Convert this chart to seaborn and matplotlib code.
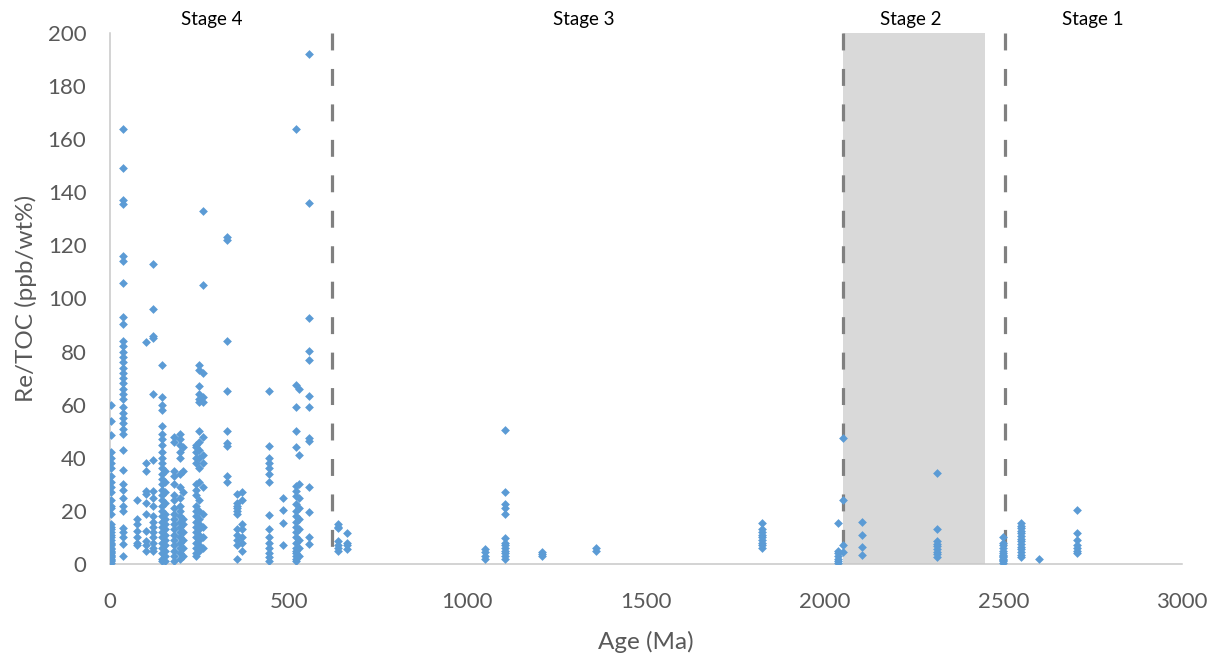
import matplotlib
matplotlib.use("Agg")
import matplotlib.pyplot as plt
import numpy as np
import pandas as pd
import seaborn as sns
from matplotlib.ticker import MultipleLocator
import matplotlib.transforms as mtransforms

# ---- data: ages (Ma) of sample groups and their Re/TOC values ----
group_ages = [2, 37, 75, 100, 120, 145, 155, 180, 195, 205, 240, 250, 260, 327,
              355, 370, 445, 484, 520, 530, 558, 638, 663,
              1050, 1105, 1210, 1360, 1825, 2037, 2050, 2105, 2315,
              2500, 2550, 2600, 2705]
group_values = [
    [60, 54, 48.5, 42, 40, 38, 36, 33, 31, 29, 27, 24, 22, 21, 19, 15, 14, 13, 12, 11,
     10, 9, 8, 7.5, 7, 6, 5.5, 5, 4.5, 4, 3.5, 3, 2.5, 2, 1.5, 1, 0.5],
    [164, 149, 137, 135.5, 116, 114, 106, 93, 90.5, 84, 82, 80, 78, 76, 74, 72, 70, 68,
     66, 64, 62, 59, 57, 55, 53, 51, 49, 43, 35.5, 30, 28, 25, 22, 20, 13.5, 12, 10, 7.5, 3],
    [24, 17, 15, 12.5, 10, 8, 7],
    [83.5, 38, 35, 27.5, 26.5, 23, 19, 12.5, 8.5, 7, 5],
    [113, 96, 86, 85, 64, 39, 27.5, 25, 22, 18, 16, 14, 12, 10, 8, 6, 5],
    [75, 63, 60, 58, 52, 49, 47, 45, 42, 40, 38, 36, 34, 32, 30, 28, 26, 24, 22, 20,
     18, 16, 14, 12, 10, 8, 6, 4, 2, 1],
    [35, 31, 27, 23, 19, 17, 15, 13, 11, 9, 7, 5, 3, 1],
    [48, 46, 35, 33, 30, 26, 24, 21, 19, 17, 15, 13, 11, 9, 7, 5, 3, 1],
    [49, 47, 45, 42, 40, 34, 29, 25, 22, 20, 18, 16, 14, 12, 10, 8, 6, 4, 2],
    [44, 35, 27, 17, 15, 12, 9, 6, 3],
    [45, 44, 42, 40, 38, 30, 28, 26, 22, 20, 18, 16, 14, 12, 10, 8, 6, 4, 3],
    [75, 73, 67, 64, 62, 61, 50, 46, 43, 40, 36, 31, 24, 20, 17, 15, 13, 11, 9, 7, 5],
    [133, 105, 72, 63, 61, 48, 41, 38, 29, 19, 14, 10, 6],
    [123, 122, 84, 65, 50, 45.5, 44.5, 33, 31],
    [26.5, 23, 22, 21, 20, 19, 13, 11, 9, 7, 2],
    [27, 24, 15, 13, 10, 8, 5],
    [65, 44.5, 40, 38, 36, 34, 31, 18.5, 13, 10, 8, 6, 4, 2.5, 1],
    [25, 20.5, 15.5, 7],
    [164, 67.5, 59, 50, 44, 29.5, 27.5, 25.7, 22.5, 20, 18, 16, 14, 12, 10, 8, 6, 5, 4, 3, 2, 1],
    [66, 41, 30, 25, 21, 17, 13, 9, 6, 3],
    [192, 136, 92.5, 80.4, 77, 63.4, 59, 47.5, 46.5, 29, 19.6, 10, 7.5],
    [15, 14, 13.6, 8.7, 7, 6, 5],
    [11.7, 8, 7, 5.6],
    [5.5, 4.5, 3, 2],
    [50.6, 27, 22.6, 21, 19, 9.8, 8, 7, 6, 5, 4, 3, 2],
    [4.5, 3.8, 3],
    [6, 5],
    [15.5, 13, 12, 11, 10, 9, 8, 7, 6],
    [15.5, 5, 4, 3, 2, 1, 0.5],
    [47.3, 24, 7.2, 4.5],
    [15.8, 11, 6.4, 3.3],
    [34.3, 13.3, 8.7, 7.7, 6.7, 5.7, 4.7, 3.7, 2.6],
    [10, 8, 7, 6, 5, 4, 3.5, 3, 2.5, 2, 1.5, 1, 0.5],
    [15.5, 14.5, 13.5, 12.5, 11.5, 10.5, 9.5, 8.5, 7.5, 6.5, 5.5, 4.5, 3.5, 2.5],
    [2],
    [20.4, 11.5, 9, 7, 6, 5, 4],
]

stage_boundaries = [620, 2050, 2505]
stage2_band = [2050, 2450]
stage_names = ["Stage 4", "Stage 3", "Stage 2", "Stage 1"]
stage_label_x = [285, 1327, 2242, 2751]
x_ticks = [0, 500, 1000, 1500, 2000, 2500, 3000]
y_ticks = [0, 20, 40, 60, 80, 100, 120, 140, 160, 180, 200]

ages = []
vals = []
for a, vs in zip(group_ages, group_values):
    ages += [a] * len(vs)
    vals += vs
df = pd.DataFrame({"Age (Ma)": ages, "Re/TOC (ppb/wt%)": vals})

sns.set_style("white")
plt.rcParams["font.family"] = ["Lato", "DejaVu Sans"]

W, H = 1213, 655
fig = plt.figure(figsize=(W / 100, H / 100), dpi=100)
ax = fig.add_axes([110 / W, (H - 564) / H, 1072 / W, 531 / H])

ax.axvspan(stage2_band[0], stage2_band[1], color="#d9d9d9", lw=0, zorder=0)
for xb in stage_boundaries:
    ax.plot([xb, xb], [200, 0], color="#808080", lw=2.3,
            linestyle=(0, (5.3, 5.8)), zorder=1, solid_capstyle="butt",
            dash_capstyle="butt")

sns.scatterplot(data=df, x="Age (Ma)", y="Re/TOC (ppb/wt%)", ax=ax, marker="D",
                s=20, color="#5b9bd5", linewidth=0, zorder=3)

ax.set_xlim(0, 3000)
ax.set_ylim(0, 200)
ax.set_xticks(x_ticks)
ax.set_yticks(y_ticks)
ax.xaxis.set_minor_locator(MultipleLocator(100))

grey = "#595959"
axc = "#c8c8c8"
for s in ["top", "right"]:
    ax.spines[s].set_visible(False)
for s in ["left", "bottom"]:
    ax.spines[s].set_color(axc)
    ax.spines[s].set_linewidth(1.1)

ax.tick_params(axis="x", which="major", direction="inout", length=12, width=1.1,
               color=axc, labelsize=16, labelcolor=grey, pad=14)
ax.tick_params(axis="x", which="minor", direction="in", length=4.5, width=1.1,
               color=axc)
ax.tick_params(axis="y", which="both", length=0, labelsize=16, labelcolor=grey, pad=17)

ax.set_xlabel("Age (Ma)", fontsize=17.5, color=grey, labelpad=14)
ax.set_ylabel("Re/TOC (ppb/wt%)", fontsize=17.5, color=grey, labelpad=8)

trans = mtransforms.blended_transform_factory(ax.transData, ax.transAxes)
for name, xp in zip(stage_names, stage_label_x):
    ax.text(xp, 1.025, name, transform=trans, ha="center", va="center",
            fontsize=13.5, color="black")

fig.savefig("out.png", dpi=100)
